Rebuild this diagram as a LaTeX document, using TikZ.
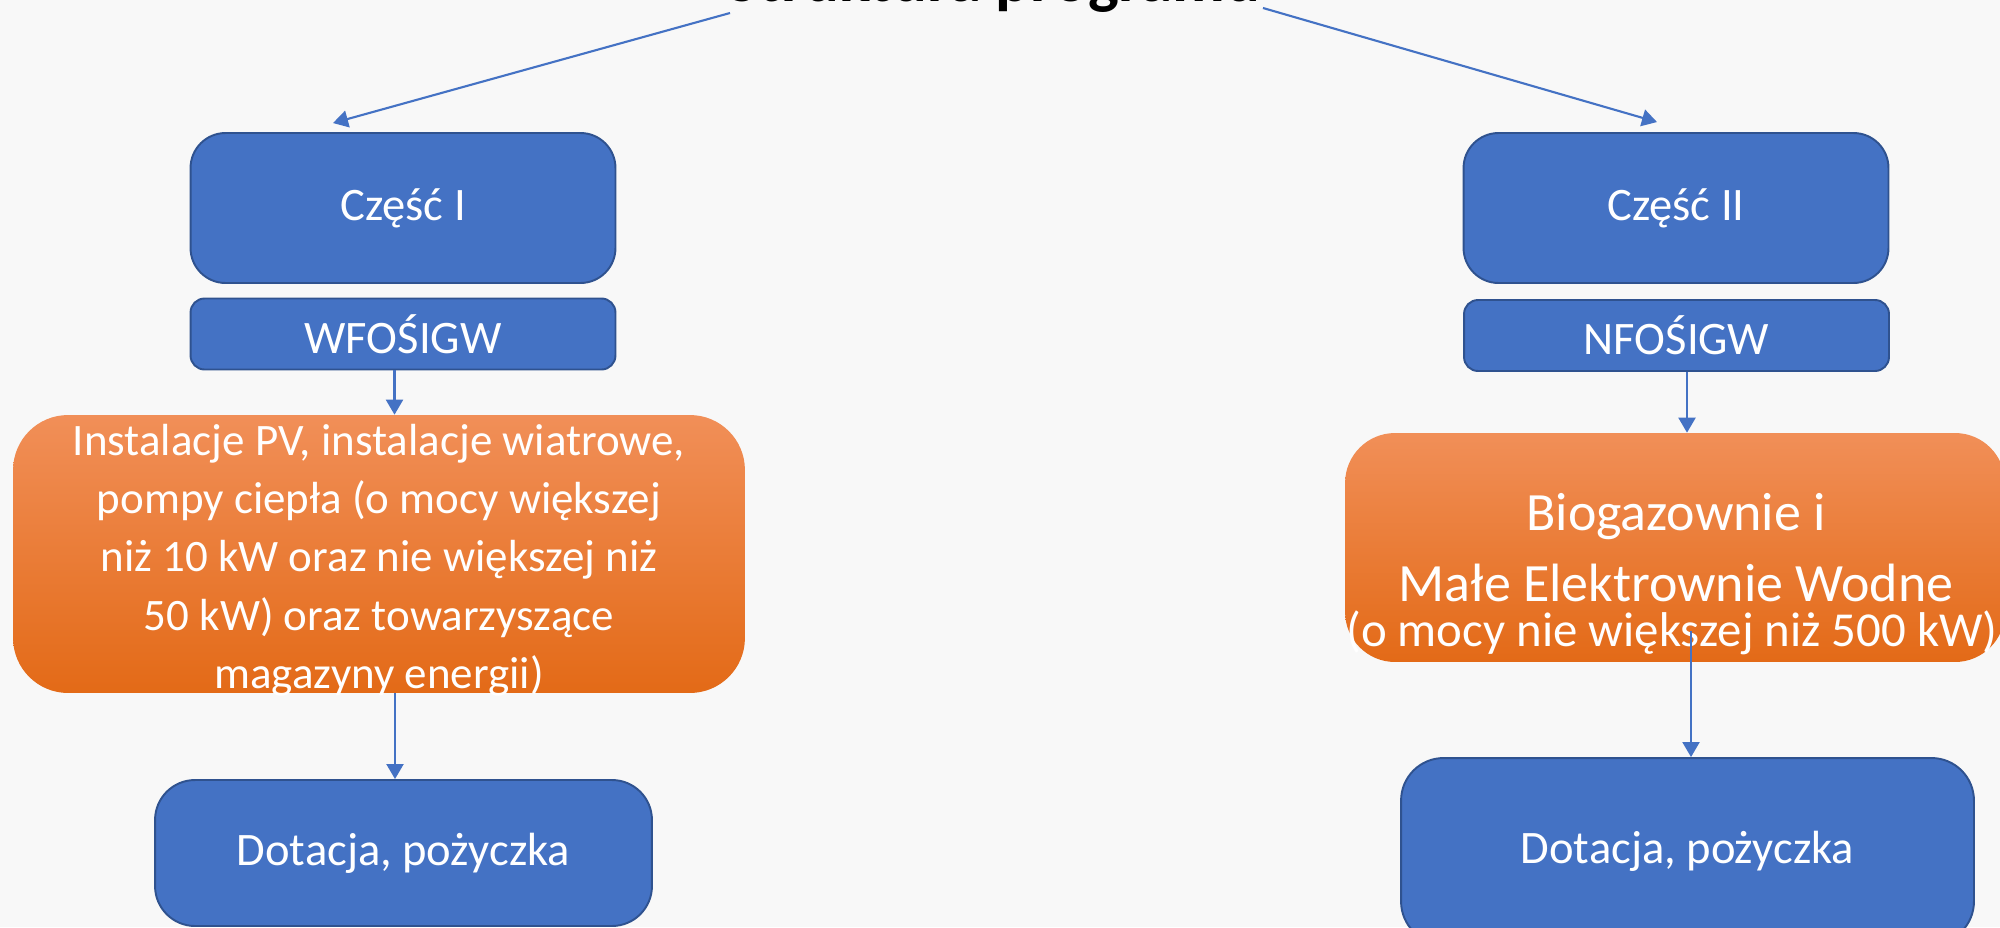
\documentclass[tikz,border=0pt]{standalone}
\usepackage{fontspec}
\setmainfont{Carlito}
\usetikzlibrary{arrows.meta}
\definecolor{bg}{HTML}{F8F8F8}
\definecolor{bfill}{HTML}{4472C4}
\definecolor{bline}{HTML}{2F528F}
\definecolor{otop}{HTML}{F18F58}
\definecolor{omid}{HTML}{F27C2C}
\definecolor{obot}{HTML}{E36A17}
\begin{document}
\begin{tikzpicture}[x=0.02cm,y=-0.02cm,
  bluebox/.style={draw=bline, line width=1.1pt, fill=bfill, text=white, inner sep=0pt,
    font=\fontsize{26.5}{32}\selectfont},
  orangebox/.style={top color=otop, middle color=omid, bottom color=obot, draw=none,
    inner sep=0pt},
  otext/.style={text=white, inner sep=0pt, anchor=base},
  arr/.style={draw=bfill, line width=1.2pt, -{Triangle[length=0.3cm,width=0.34cm]}},
  titletext/.style={font=\bfseries\fontsize{37}{44}\selectfont, text=black, inner sep=0pt, anchor=base}]
\useasboundingbox (0,0) rectangle (2000,927);
\fill[bg] (0,0) rectangle (2000,927);

\node[titletext] (title) at (994,1) {Struktura programu};

% left column
\node[bluebox, rounded corners=0.7cm, minimum width=8.5cm, minimum height=3.0cm] (c1) at (403,208) {Część I};
\node[bluebox, rounded corners=0.28cm, minimum width=8.5cm, minimum height=1.42cm] (wfo) at (403,334) {WFOŚIGW};
\node[orangebox, rounded corners=1.1cm, minimum width=14.64cm, minimum height=5.56cm] (inst) at (379,554) {};
\node[text=white, inner sep=0pt, align=center, font=\fontsize{25.6}{33.2}\selectfont] (instt) at (379,560)
  {Instalacje PV, instalacje wiatrowe,\\pompy ciepła (o mocy większej\\niż 10 kW oraz nie większej niż\\50 kW) oraz towarzyszące\\magazyny energii)};
\node[bluebox, rounded corners=0.8cm, minimum width=9.94cm, minimum height=2.92cm] (dot1) at (403.5,853) {Dotacja, pożyczka};

% right column
\node[bluebox, rounded corners=0.7cm, minimum width=8.5cm, minimum height=3.0cm] (c2) at (1676,208) {Część II};
\node[bluebox, rounded corners=0.28cm, minimum width=8.5cm, minimum height=1.42cm] (nfo) at (1676.5,335.5) {NFOŚIGW};
\node[orangebox, rounded corners=1.0cm, minimum width=13.2cm, minimum height=4.58cm] (bio) at (1675,547.5) {};
\node[otext, font=\fontsize{30.7}{38}\selectfont] (bio1) at (1676,530) {Biogazownie i};
\node[otext, font=\fontsize{30.7}{38}\selectfont] (bio2) at (1676,601) {Małe Elektrownie Wodne};
\node[otext, font=\fontsize{27.8}{33}\selectfont] (bio3) at (1672,646) {(o mocy nie większej niż 500 kW)};
\node[bluebox, rounded corners=0.85cm, minimum width=11.46cm, minimum height=3.72cm] (dot2) at (1687.5,851) {Dotacja, pożyczka};

% connectors
\coordinate (t1) at (730,13);
\coordinate (t2) at (1263,8);
\draw[arr] (t1) -- ([shift={(-70,-9)}]c1.north);
\draw[arr] (t2) -- ([shift={(-19,-10)}]c2.north);
\coordinate (a1) at ([xshift=-0.17cm]wfo.south);
\draw[arr] (a1) -- (a1 |- inst.north);
\coordinate (a2) at ([xshift=0.32cm]inst.south);
\draw[arr] (a2) -- (a2 |- dot1.north);
\coordinate (a3) at ([xshift=0.21cm]nfo.south);
\draw[arr] (a3) -- (a3 |- bio.north);
\coordinate (a4) at (1691,631);
\draw[arr] (a4) -- (a4 |- dot2.north);
\end{tikzpicture}
\end{document}
